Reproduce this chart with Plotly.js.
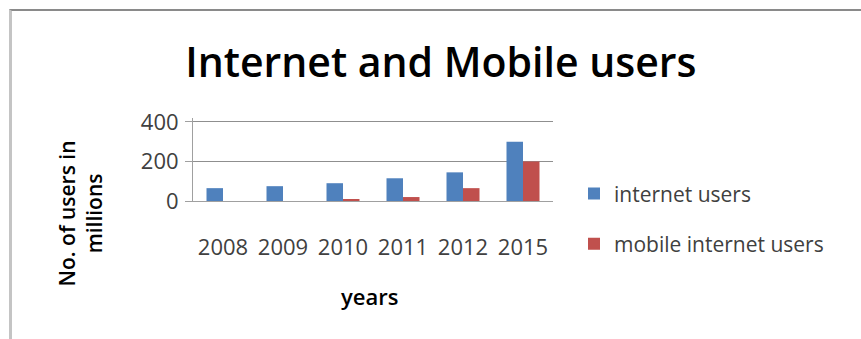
<!DOCTYPE html>
<html>
<head>
<meta charset="utf-8">
<script src="https://cdn.plot.ly/plotly-3.0.1.min.js"></script>
<style>
html,body{margin:0;padding:0;background:#fff;}
#wrap{position:relative;width:861px;height:339px;}
#chart{position:absolute;left:0;top:0;width:861px;height:339px;}
#frame{position:absolute;left:9px;top:9px;width:852px;height:330px;border-left:3px solid #c4c4c4;border-top:2px solid #8a8a8a;box-sizing:border-box;pointer-events:none;}
</style>
</head>
<body>
<div id="wrap"><div id="chart"></div><div id="frame"></div></div>
<script>
const years = ["2008", "2009", "2010", "2011", "2012", "2015"];
const internetUsers = [65, 75, 90, 115, 145, 300];
const mobileInternetUsers = [0, 0, 10, 20, 65, 200];
const seriesNames = ["internet users", "mobile internet users"];
const yTicks = [0, 200, 400];

const FONT = "Open Sans, Liberation Sans, sans-serif";

const traces = [
  {type: "bar", name: seriesNames[0], legendgroup: "a", x: years, y: internetUsers, marker: {color: "#4F81BD"}},
  {type: "bar", name: seriesNames[1], legendgroup: "b", x: years, y: mobileInternetUsers, marker: {color: "#C0504D"}}
];

const layout = {
  width: 861, height: 339,
  paper_bgcolor: "#ffffff", plot_bgcolor: "#ffffff",
  margin: {l: 193, r: 308, t: 118, b: 138},
  barmode: "group", bargap: 0.45, bargroupgap: 0,
  font: {family: FONT, color: "#404040", size: 20},
  title: {text: "Internet and Mobile users", x: 0.512, xanchor: "center", y: 0.815, yanchor: "middle",
          font: {family: FONT, size: 41, color: "#000000", weight: 600}},
  xaxis: {type: "category", showgrid: false, showline: true, linecolor: "#a0a0a0", linewidth: 1,
          ticks: "", ticklabelstandoff: 27, tickfont: {size: 22, color: "#404040"}},
  yaxis: {range: [0, 420], tickvals: yTicks, showgrid: true, gridcolor: "#8f8f8f", gridwidth: 1,
          showline: true, linecolor: "#a0a0a0", ticks: "outside", ticklen: 7, tickcolor: "#a0a0a0",
          zeroline: false, tickfont: {size: 22, color: "#404040"}, ticklabelstandoff: 2},
  showlegend: true,
  legend: {x: 0.058, xanchor: "left", y: 0.35, yanchor: "top",
           font: {size: 21, color: "#404040"},
           tracegroupgap: 20, traceorder: "grouped", itemsizing: "constant", itemwidth: 30,
           bgcolor: "rgba(0,0,0,0)"},
  annotations: [
    {text: "No. of users in<br>millions", textangle: -90, xref: "paper", yref: "paper",
     x: -0.314, y: -0.15, xanchor: "center", yanchor: "middle", showarrow: false,
     font: {family: FONT, size: 21, color: "#000000", weight: 600}},
    {text: "years", xref: "paper", yref: "paper", x: 0.49, y: -1.14, xanchor: "center", yanchor: "middle",
     showarrow: false, font: {family: FONT, size: 22, color: "#000000", weight: 600}}
  ]
};
layout.legend.x = (574 - 193) / (861 - 193 - 308);
// keep legend rows at same pixel positions with taller plot (83px)
layout.legend.y = 0.35 * 79 / 83 + (0) ;

Plotly.newPlot("chart", traces, layout, {displayModeBar: false, staticPlot: true});
</script>
</body>
</html>
